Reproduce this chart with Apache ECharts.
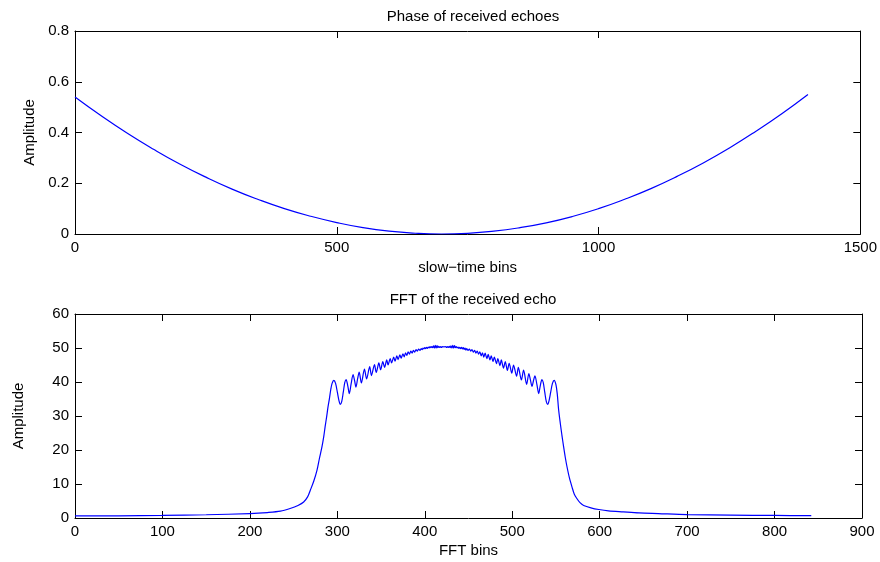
<!DOCTYPE html>
<html><head><meta charset="utf-8">
<script src="https://cdn.jsdelivr.net/npm/echarts@6/dist/echarts.min.js"></script>
<style>html,body{margin:0;padding:0;background:#fff}#c{width:880px;height:562px}</style>
</head><body><div id="c"></div>
<script>
// ---- Top subplot: Phase of received echoes ----
const topTitle = 'Phase of received echoes';
const topXName = 'slow\u2212time bins';
const topYName = 'Amplitude';
const topBins = [0,50,100,150,200,250,300,350,400,450,500,550,600,650,700,750,800,850,900,950,1000,1050,1100,1150,1200,1250,1300,1350,1400];
const topPhase = [0.540,0.466,0.397,0.334,0.276,0.224,0.177,0.136,0.100,0.070,0.045,0.025,0.011,0.003,0.000,0.0026,0.011,0.025,0.044,0.069,0.100,0.137,0.179,0.227,0.280,0.339,0.404,0.474,0.550];

// ---- Bottom subplot: FFT of the received echo ----
const botTitle = 'FFT of the received echo';
const botXName = 'FFT bins';
const botYName = 'Amplitude';
const fftBins = [0,50,100,150,200,220,235,246,255,261.5,266,269,273,276.7,279.5,282.4,284.5,286,287.8,289.3,291,292.5,294,296,298,300,301.8,303.4,305,306.8,308.5,310,312,313.7,315.8,318,319.8,321.3,323.2,325,327.5,331,333.5,337,339,342.5,344.5,347.5,349.5,352,354,356.5,358,360.5,362,364.5,366,368,369.5,371.5,373,375,376.5,378,379.5,381,382.5,384,385.5,387,388.5,390,391.5,393,394.5,396,397,
398,399,400,401,402,403,404,405,406,407,408,409,410,411,412,413,414,415,416,417,418,419,420,421,422,423,424,425,426,427,428,429,430,431,432,433,434,435,436,437,438,439,440,441,442,443,444,445,446,447,
448,449.5,451,452.5,454,455.5,457,458.5,460,461.5,463,464.5,466,467.5,469,471,472.5,474.5,476,478,479.5,482,483.5,486,487.5,490,492,494.5,496.5,499.5,501.5,505,507,510.5,513,516.5,519,520.8,522.7,524.2,526,528.2,530.3,532,534,535.5,537.2,539,540.6,542.2,544,546,548,550,551.5,553,555,556.8,558.8,560.7,562.7,565.5,568.4,571,574,577.5,581.7,590,599,610,627,645,667,700,750,800,842];
const fftAmp = [0.6,0.65,0.75,0.95,1.3,1.6,2.0,2.8,3.7,4.7,6.2,8.1,10.8,14,17.5,20.9,24,26.8,29.8,32.6,35.2,37.8,39.6,40.5,39.6,37,34.6,33.4,34.2,37,39.8,40.7,38.8,36.6,39.5,42.2,40.3,38.5,41,42.9,39.7,43.8,40.9,44.5,41.9,45.1,42.8,45.6,43.6,46.0,44.3,46.5,45.0,46.9,45.6,47.3,46.1,47.7,46.6,48.0,47.0,48.3,47.4,48.6,47.8,48.9,48.2,49.1,48.5,49.3,48.8,49.5,49.1,49.7,49.3,49.8,49.5,
50.0,49.7,50.1,49.8,50.2,49.9,50.3,50.0,50.4,50.1,50.4,50.1,50.6,50.0,50.8,50.0,50.7,50.1,50.5,50.2,50.4,50.2,50.4,50.3,50.4,50.3,50.4,50.2,50.4,50.2,50.5,50.1,50.6,50.0,50.8,50.0,50.7,50.1,50.4,50.0,50.3,49.9,50.2,49.8,50.2,49.7,50.1,49.6,50.0,49.4,
49.8,49.3,49.7,49.1,49.5,48.8,49.3,48.5,49.1,48.2,48.9,47.7,48.6,47.3,48.5,46.9,48.1,46.5,47.7,46.0,47.3,45.4,46.9,44.8,46.5,44.1,46.0,43.4,45.5,42.6,45.0,41.7,44.3,40.6,43.5,39.3,42.5,40.6,38.7,40.3,41.8,39.3,36.6,38.8,40.7,39.8,37,34.2,33.4,34.6,37,39.6,40.5,39.2,36.5,32.0,27.8,24.4,20.9,17.8,15,11.7,9.1,7.0,5.7,4.5,3.7,3.0,2.5,2.1,1.8,1.5,1.3,1.0,0.85,0.75,0.7];

const topXTicks = {min:0, max:1500, interval:500};
const topYTicks = {min:0, max:0.8, interval:0.2};
const botXTicks = {min:0, max:900, interval:100};
const botYTicks = {min:0, max:60, interval:10};

const FONT = "'Liberation Sans', Arial, Helvetica, sans-serif";
const FS = 15;

function mkAxis(gridIndex, t, position, showLabel, name, nameGap){
  const a = {
    type:'value', gridIndex, position, min:t.min, max:t.max, interval:t.interval,
    axisLine:{show:true, onZero:false, lineStyle:{color:'#000', width:1}},
    axisTick:{show:true, inside:true, length:7, lineStyle:{color:'#000', width:1}},
    axisLabel:{show:showLabel, color:'#000', fontSize:FS, fontFamily:FONT, margin:6,
               formatter:function(v){ return String(+v.toFixed(6)); }},
    splitLine:{show:false}
  };
  if(name){
    a.name = name; a.nameLocation = 'middle'; a.nameGap = nameGap;
    a.nameTextStyle = {color:'#000', fontSize:FS, fontFamily:FONT};
  }
  return a;
}

const chart = echarts.init(document.getElementById('c'), null, {renderer:'canvas'});
chart.setOption({
  animation:false,
  backgroundColor:'#fff',
  title:[
    {text:topTitle, left:468, top:4, textAlign:'center', textStyle:{color:'#000', fontSize:FS, fontWeight:'normal', fontFamily:FONT}},
    {text:botTitle, left:468, top:287, textAlign:'center', textStyle:{color:'#000', fontSize:FS, fontWeight:'normal', fontFamily:FONT}}
  ],
  grid:[
    {left:75, width:787, top:31, height:203},
    {left:75, width:787, top:314, height:204}
  ],
  xAxis:[
    mkAxis(0, topXTicks, 'bottom', true, topXName, 26),
    mkAxis(0, topXTicks, 'top', false),
    mkAxis(1, botXTicks, 'bottom', true, botXName, 25),
    mkAxis(1, botXTicks, 'top', false)
  ],
  yAxis:[
    mkAxis(0, topYTicks, 'left', true, topYName, 34),
    mkAxis(0, topYTicks, 'right', false),
    mkAxis(1, botYTicks, 'left', true, botYName, 49),
    mkAxis(1, botYTicks, 'right', false)
  ],
  series:[
    {type:'line', xAxisIndex:0, yAxisIndex:0, data:topBins.map((x,i)=>[x, topPhase[i]]),
     showSymbol:false, smooth:0.5, lineStyle:{color:'#0000ff', width:1.2}},
    {type:'line', xAxisIndex:2, yAxisIndex:2, data:fftBins.map((x,i)=>[x, fftAmp[i]]),
     showSymbol:false, smooth:0.3, lineStyle:{color:'#0000ff', width:1.2}}
  ]
});
</script></body></html>
